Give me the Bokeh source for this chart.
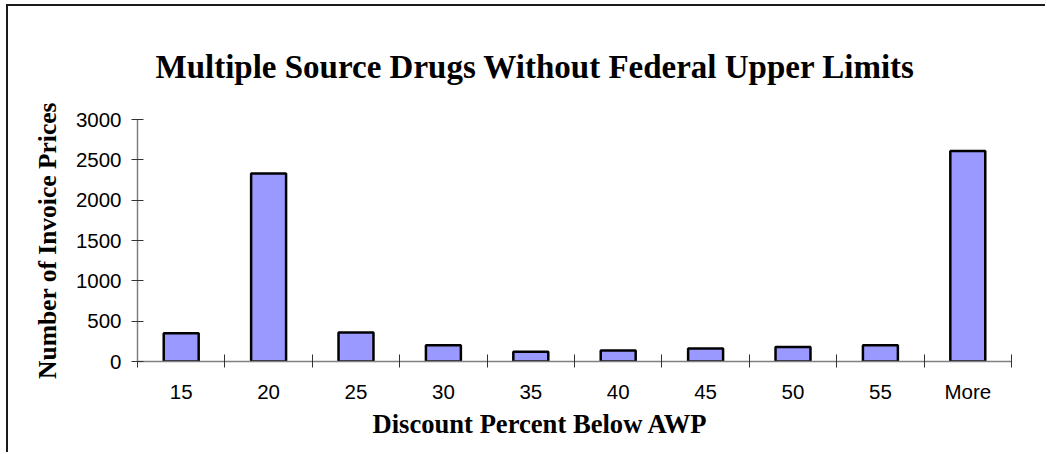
from bokeh.plotting import figure
from bokeh.models import Range1d, FixedTicker, CustomJSTickFormatter, Title
from bokeh.embed import file_html
from bokeh.resources import INLINE

# Histogram bins and counts
categories = ["15", "20", "25", "30", "35", "40", "45", "50", "55", "More"]
counts = [350, 2330, 360, 200, 120, 135, 160, 180, 200, 2610]
y_ticks = [0, 500, 1000, 1500, 2000, 2500, 3000]

title_text = "Multiple Source Drugs Without Federal Upper Limits"
x_title = "Discount Percent Below AWP"
y_title = "Number of Invoice Prices"

n = len(categories)
centers = list(range(n))
bounds = [i - 0.5 for i in range(n + 1)]
y_max = y_ticks[-1]

p = figure(
    width=1039, height=448,
    x_range=Range1d(-0.5, n - 0.5), y_range=Range1d(0, y_max),
    output_backend="svg", toolbar_location=None,
    min_border_left=129, min_border_right=36,
    min_border_top=113, min_border_bottom=93,
)
p.margin = (4, 0, 0, 6)
p.styles = {"border-top": "2px solid #1a1a1a", "border-left": "2px solid #1a1a1a"}
p.outline_line_color = None
p.xgrid.visible = False
p.ygrid.visible = False
p.background_fill_color = "white"
p.border_fill_color = "white"

p.vbar(x=centers, top=counts, width=0.4, bottom=0,
       fill_color="#9999FF", line_color="black", line_width=2.5)

# x axis: labels at bin centres, ticks on bin boundaries
xa = p.xaxis[0]
xa.ticker = FixedTicker(ticks=centers, minor_ticks=bounds)
xa.formatter = CustomJSTickFormatter(args=dict(labels=categories),
                                     code="return labels[Math.round(tick)];")
xa.major_tick_in = 0
xa.major_tick_out = 0
xa.minor_tick_in = 7
xa.minor_tick_out = 6
xa.minor_tick_line_color = "#333333"
xa.axis_line_color = "#808080"
xa.axis_line_width = 1.5
xa.major_label_standoff = 12
xa.major_label_text_font = "Liberation Sans"
xa.major_label_text_font_size = "20.5px"
xa.major_label_text_color = "black"

ya = p.yaxis[0]
ya.ticker = FixedTicker(ticks=y_ticks, minor_ticks=[])
ya.major_tick_in = 6
ya.major_tick_out = 6
ya.major_tick_line_color = "#333333"
ya.axis_line_color = "#808080"
ya.axis_line_width = 1.5
ya.major_label_standoff = 10
ya.major_label_text_font = "Liberation Sans"
ya.major_label_text_font_size = "20.5px"
ya.major_label_text_color = "black"
ya.axis_label = y_title
ya.axis_label_text_font = "Liberation Serif"
ya.axis_label_text_font_style = "bold"
ya.axis_label_text_font_size = "25.5px"
ya.axis_label_text_color = "black"
ya.axis_label_standoff = 11

# chart title above the plot, x-axis title below the tick labels
p.add_layout(Title(text=title_text, align="left", offset=18, standoff=70,
                   text_font="Liberation Serif", text_font_style="bold",
                   text_font_size="33px", text_color="black"), "above")
p.add_layout(Title(text=x_title, align="left", offset=235, standoff=6,
                   vertical_align="top",
                   text_font="Liberation Serif", text_font_style="bold",
                   text_font_size="26.6px", text_color="black"), "below")

open("out.html", "w").write(file_html(p, INLINE))
